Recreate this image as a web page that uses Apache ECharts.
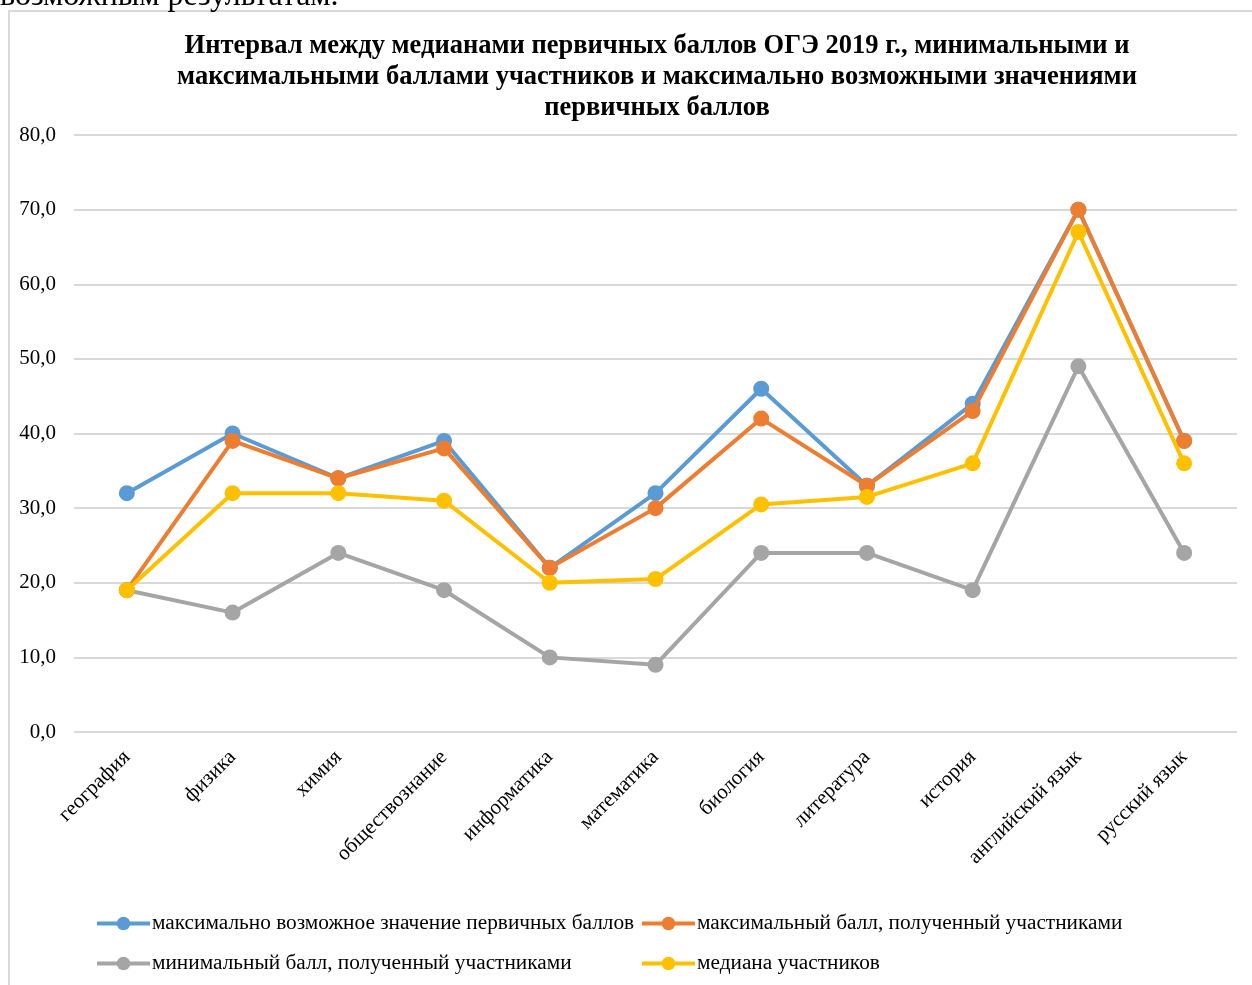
<!DOCTYPE html>
<html>
<head>
<meta charset="utf-8">
<script src="https://cdn.jsdelivr.net/npm/echarts@6/dist/echarts.min.js"></script>
<style>
  html, body { margin: 0; padding: 0; background: #fff; }
  #main { width: 1252px; height: 985px; }
</style>
</head>
<body>
<div id="main"></div>
<script>
// предметы
var subjects = ["география", "физика", "химия", "обществознание", "информатика", "математика",
    "биология", "литература", "история", "английский язык", "русский язык"];
// ряды данных
var maxPossible = [32, 40, 34, 39, 22, 32, 46, 33, 44, 70, 39];
var maxReceived = [19, 39, 34, 38, 22, 30, 42, 33, 43, 70, 39];
var minReceived = [19, 16, 24, 19, 10, 9, 24, 24, 19, 49, 24];
var medianScore = [19, 32, 32, 31, 20, 20.5, 30.5, 31.5, 36, 67, 36];
var seriesNames = ["максимально возможное значение первичных баллов",
    "максимальный балл, полученный участниками",
    "минимальный балл, полученный участниками",
    "медиана участников"];
var colors = ["#5B9BD5", "#ED7D31", "#A5A5A5", "#FFC000"];

var font = "'Liberation Serif', 'DejaVu Serif', serif";

function makeSeries(i, arr) {
    return {
        name: seriesNames[i],
        type: "line",
        data: arr,
        symbol: "circle",
        symbolSize: 16,
        lineStyle: { width: 4, color: colors[i] },
        itemStyle: { color: colors[i] },
        z: 2 + i
    };
}

function makeLegend(names, left) {
    return {
        data: names,
        orient: "vertical",
        left: left,
        top: 913,
        padding: 0,
        itemGap: 19,
        itemWidth: 53,
        itemHeight: 17,
        lineStyle: { width: 4 },
        textStyle: { fontFamily: font, fontSize: 21.3, color: "#000", padding: [0, 0, 0, -3] }
    };
}

var myChart = echarts.init(document.getElementById("main"));
var option = {
    animation: false,
    textStyle: { fontFamily: font },
    graphic: [
        {
            type: "rect",
            shape: { x: 9, y: 11, width: 1260, height: 990 },
            style: { fill: "none", stroke: "#D9D9D9", lineWidth: 2 }
        },
        {
            type: "text",
            left: 0,
            top: -19,
            style: { text: "возможным результатам.", font: "32px " + font, fill: "#000" }
        }
    ],
    title: {
        text: "Интервал между медианами первичных баллов ОГЭ 2019 г., минимальными и\nмаксимальными баллами участников и максимально возможными значениями\nпервичных баллов",
        left: 652,
        textAlign: "center",
        top: 26,
        textStyle: { fontFamily: font, fontSize: 26.5, fontWeight: "bold", color: "#000", lineHeight: 30.8 }
    },
    legend: [
        makeLegend([seriesNames[0], seriesNames[2]], 95),
        makeLegend([seriesNames[1], seriesNames[3]], 640)
    ],
    grid: { left: 74, right: 15, top: 135, bottom: 253 },
    xAxis: {
        type: "category",
        data: subjects,
        axisLine: { show: false },
        axisTick: { show: false },
        axisLabel: { rotate: 45, margin: 22, fontFamily: font, fontSize: 21, color: "#000", interval: 0 }
    },
    yAxis: {
        type: "value",
        min: 0,
        max: 80,
        interval: 10,
        axisLabel: {
            fontFamily: font, fontSize: 21, color: "#000", margin: 18,
            formatter: function (v) { return v.toFixed(1).replace(".", ","); }
        },
        splitLine: { lineStyle: { color: "#D9D9D9", width: 2 } }
    },
    series: [
        makeSeries(0, maxPossible),
        makeSeries(1, maxReceived),
        makeSeries(2, minReceived),
        makeSeries(3, medianScore)
    ]
};
myChart.setOption(option);
</script>
</body>
</html>
